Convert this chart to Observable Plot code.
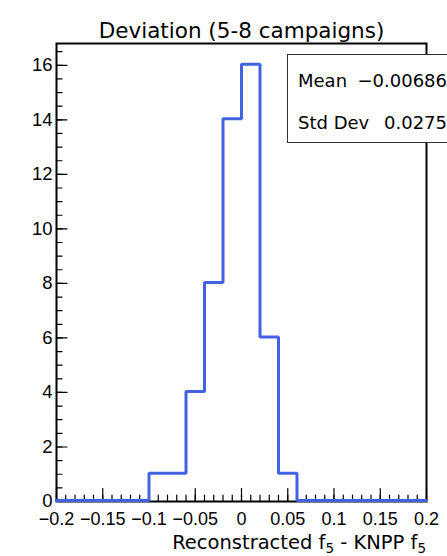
<!DOCTYPE html>
<html>
<head>
<meta charset="utf-8">
<script src="https://cdn.jsdelivr.net/npm/d3@7"></script>
<script src="https://cdn.jsdelivr.net/npm/@observablehq/plot@0.6"></script>
<style>
  html, body { margin: 0; padding: 0; background: #fff; }
</style>
</head>
<body>
<div id="chart"></div>
<script>
// Histogram of reconstructed f5 minus KNPP f5, 20 bins of width 0.02
const binEdges = [-0.2, -0.18, -0.16, -0.14, -0.12, -0.1, -0.08, -0.06, -0.04, -0.02, 0,
                  0.02, 0.04, 0.06, 0.08, 0.1, 0.12, 0.14, 0.16, 0.18, 0.2];
const binCounts = [0, 0, 0, 0, 0, 1, 1, 4, 8, 14, 16, 6, 1, 0, 0, 0, 0, 0, 0, 0];

const xTicks = [-0.2, -0.15, -0.1, -0.05, 0, 0.05, 0.1, 0.15, 0.2];
const yTicks = [0, 2, 4, 6, 8, 10, 12, 14, 16];
const xMinorTicks = d3.range(-20, 21).map(i => i / 100);
const yMinorTicks = d3.range(0, 34).map(i => i / 2);

const titleText = "Deviation (5-8 campaigns)";
// axis title pieces: [text, isSubscript]
const xTitleParts = [["Reconstracted f", false], ["5", true], [" - KNPP f", false], ["5", true]];

// step outline of the histogram (ROOT style)
const steps = binCounts.flatMap((c, i) => [
  {x: binEdges[i], y: c},
  {x: binEdges[i + 1], y: c}
]);

// statistics from bin centres
const centers = binCounts.map((c, i) => (binEdges[i] + binEdges[i + 1]) / 2);
const total = d3.sum(binCounts);
const mean = d3.sum(binCounts, (c, i) => c * centers[i]) / total;
const stdDev = Math.sqrt(d3.sum(binCounts, (c, i) => c * (centers[i] - mean) ** 2) / total);
const fmtStat = d3.format(".3g");

// tick drawn inward from the axis line
const tickShape = {
  draw(context, l) { context.moveTo(0, 0); context.lineTo(0, -l); }
};

const fmtTick = d3.format("");
const mainFont = "'DejaVu Sans', sans-serif";
const tickFont = "'Liberation Sans', Arial, sans-serif";

const chart = Plot.plot({
  width: 447,
  height: 556,
  marginLeft: 56,
  marginRight: 21,
  marginTop: 43,
  marginBottom: 55,
  style: {fontFamily: mainFont, fontSize: "18px", background: "#fff", color: "#000"},
  x: {domain: [-0.2, 0.2]},
  y: {domain: [0, 16.8]},
  marks: [
    // minor / major ticks
    Plot.vector(xMinorTicks, {x: d => d, frameAnchor: "bottom", length: 6.5, rotate: 0, anchor: "start", shape: tickShape, stroke: "#000", strokeWidth: 1.2}),
    Plot.vector(xTicks, {x: d => d, frameAnchor: "bottom", length: 13, rotate: 0, anchor: "start", shape: tickShape, stroke: "#000", strokeWidth: 1.2}),
    Plot.vector(yMinorTicks, {y: d => d, frameAnchor: "left", length: 5.5, rotate: 90, anchor: "start", shape: tickShape, stroke: "#000", strokeWidth: 1.2}),
    Plot.vector(yTicks, {y: d => d, frameAnchor: "left", length: 10.5, rotate: 90, anchor: "start", shape: tickShape, stroke: "#000", strokeWidth: 1.2}),
    Plot.frame({stroke: "#000", strokeWidth: 2}),
    Plot.line(steps, {x: "x", y: "y", stroke: "#4262e2", strokeWidth: 3, strokeLinejoin: "miter", dy: -1}),
    Plot.axisX(xTicks, {tickSize: 0, tickPadding: 11, tickFormat: fmtTick, fontSize: 18, fontFamily: tickFont, label: null, fill: "#000"}),
    Plot.axisY(yTicks, {tickSize: 0, tickPadding: 4, tickFormat: fmtTick, fontSize: 18.5, fontFamily: tickFont, label: null, fill: "#000"}),
    Plot.text([titleText], {text: d => d, frameAnchor: "top", dy: -21, fontSize: 21.5, fill: "#000"})
  ]
});

const svg = d3.select(chart);

// x axis title with subscripts, right-aligned to the frame
const xt = svg.append("text")
  .attr("x", 426).attr("y", 548.5)
  .attr("text-anchor", "end")
  .attr("font-family", mainFont).attr("font-size", 19.5).attr("fill", "#000");
xTitleParts.forEach(([t, sub], i) => {
  const ts = xt.append("tspan").text(t);
  if (sub) ts.attr("font-size", 13.5).attr("dy", 4);
  else if (i > 0) ts.attr("dy", -4);
});

// statistics box in the upper right corner
const box = svg.append("g").attr("font-family", mainFont).attr("font-size", 18).attr("fill", "#000");
box.append("rect")
  .attr("x", 287.5).attr("y", 54.5).attr("width", 200).attr("height", 88)
  .attr("fill", "#fff").attr("stroke", "#333").attr("stroke-width", 1);
const statRows = [["Mean", fmtStat(mean)], ["Std Dev", fmtStat(stdDev)]];
statRows.forEach(([label, value], i) => {
  const yb = 86.5 + i * 42.5;
  box.append("text").attr("x", 298).attr("y", yb).attr("text-anchor", "start").text(label);
  box.append("text").attr("x", 447).attr("y", yb).attr("text-anchor", "end").text(value);
});

document.getElementById("chart").appendChild(chart);
</script>
</body>
</html>
